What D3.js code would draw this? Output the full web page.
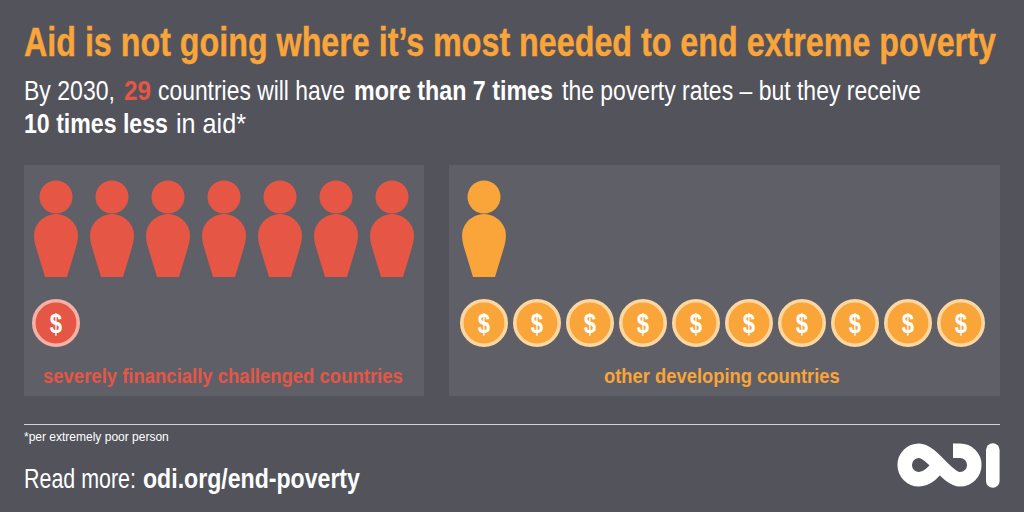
<!DOCTYPE html>
<html>
<head>
<meta charset="utf-8">
<script src="https://d3js.org/d3.v7.min.js"></script>
<style>
  html, body { margin: 0; padding: 0; background: #53535c; }
  svg { display: block; }
  text { font-family: "Liberation Sans", Arial, sans-serif; }
</style>
</head>
<body>
<div id="chart-area"></div>
<script>
// data
var groups = ["severely financially challenged countries", "other developing countries"];
var poverty = [7, 1];
var aid = [1, 10];

var title = "Aid is not going where it\u2019s most needed to end extreme poverty";
var footnote = "*per extremely poor person";

var orange = "#f9a539", red = "#e55645";
var fills = [red, orange];
var rings = ["#f4b1a5", "#fdd6a0"];
var panelX = [24, 449], panelW = [400, 551];
var iconX = [56, 484];

var svg = d3.select("#chart-area").append("svg")
    .attr("width", 1024)
    .attr("height", 512);

svg.append("rect").attr("width", 1024).attr("height", 512).attr("fill", "#53535c");

// squeeze a text to the width it has in the picture
function fit(sel, x, width) {
    var w = sel.node().getComputedTextLength();
    sel.attr("transform", "translate(" + x + ",0) scale(" + (width / w) + ",1)").attr("x", 0);
}

function line(y, size, width, parts, x) {
    var t = svg.append("text").attr("y", y).attr("font-size", size);
    parts.forEach(function (p) {
        t.append("tspan").text(p[0])
            .attr("font-weight", p[1] ? "bold" : "normal")
            .attr("fill", p[2] || "#fff");
    });
    fit(t, x === undefined ? 24 : x, width);
    return t;
}

line(56.5, 40, 972, [[title, true, orange]])
    .attr("stroke", orange)
    .attr("stroke-width", 0.4);

line(100.5, 27, 91, [["By 2030,", false]]);
line(100.5, 27, 27, [["29", true, red]], 124);
line(100.5, 27, 187, [["countries will have", false]], 158);
line(100.5, 27, 199, [["more than 7 times", true]], 354);
line(100.5, 27, 359, [["the poverty rates \u2013 but they receive", false]], 562);

line(133, 27, 144, [["10 times less", true]]);
line(133, 27, 70, [["in aid*", false]], 176);

// panels
svg.selectAll(".panel")
    .data(groups)
    .enter().append("rect")
    .attr("class", "panel")
    .attr("x", function (d, i) { return panelX[i]; })
    .attr("y", 165)
    .attr("width", function (d, i) { return panelW[i]; })
    .attr("height", 231)
    .attr("fill", "#5f5f68");

var personX = d3.scaleLinear().domain([0, 1]).range([0, 56]);
var coinX = d3.scaleLinear().domain([0, 1]).range([0, 53]);

var bodyPath = "M-11,40 L11,40 L19.5,12 C22,4 23,-3 20.5,-9 C17,-18 8,-23 0,-23 C-8,-23 -17,-18 -20.5,-9 C-23,-3 -22,4 -19.5,12 Z";

groups.forEach(function (g, k) {
    var x0 = iconX[k];

    var people = svg.append("g").selectAll("g")
        .data(d3.range(poverty[k]))
        .enter().append("g")
        .attr("transform", function (d) { return "translate(" + (x0 + personX(d)) + ",237)"; });
    people.append("circle").attr("cy", -40).attr("r", 16.5).attr("fill", fills[k]);
    people.append("path").attr("d", bodyPath).attr("fill", fills[k]);

    var coins = svg.append("g").selectAll("g")
        .data(d3.range(aid[k]))
        .enter().append("g")
        .attr("transform", function (d) { return "translate(" + (x0 + coinX(d)) + ",323)"; });
    coins.append("circle").attr("r", 22.2)
        .attr("fill", fills[k])
        .attr("stroke", rings[k])
        .attr("stroke-width", 3.6);
    coins.append("text")
        .attr("text-anchor", "middle")
        .attr("transform", "scale(0.82,1)")
        .attr("y", 9.5)
        .attr("font-size", 27)
        .attr("font-weight", "bold")
        .attr("fill", "#fff")
        .text("$");

    var cx = k === 0 ? 43 : 604;
    var lw = k === 0 ? 360 : 236;
    line(383, 21, lw, [[g, true, fills[k]]], cx);
});

// footer
svg.append("line")
    .attr("x1", 24).attr("x2", 1000)
    .attr("y1", 424.5).attr("y2", 424.5)
    .attr("stroke", "#d4d4d6")
    .attr("stroke-width", 1);

line(441, 13, 145, [[footnote, false]]);
line(488, 27.5, 112, [["Read more:", false]]);
line(488, 27.5, 217, [["odi.org/end-poverty", true]], 143);

// ODI logo
var logo = svg.append("g");
logo.append("path")
    .attr("d", "M953,450.7 L960,450.7 A14.3,14.3 0 0 1 960,479.3 C947,479.3 932,450.7 919,450.7 A14.3,14.3 0 0 0 919,479.3 C927,479.3 933,473 939,465")
    .attr("fill", "none")
    .attr("stroke", "#fff")
    .attr("stroke-width", 14.5);
logo.append("rect")
    .attr("x", 986).attr("y", 443.3)
    .attr("width", 13.6).attr("height", 44.4)
    .attr("rx", 6.8)
    .attr("fill", "#fff");
</script>
</body>
</html>
